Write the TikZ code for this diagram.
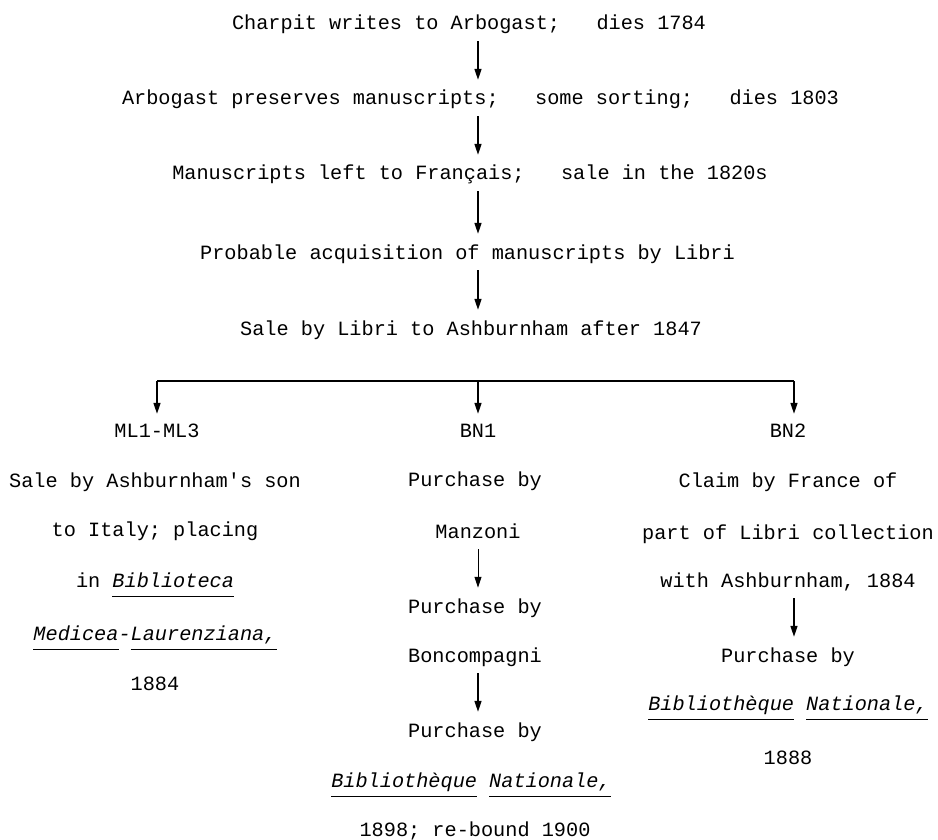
\documentclass[tikz,border=0pt]{standalone}
\usepackage{fontspec}
\setmonofont{Liberation Mono}
\usetikzlibrary{arrows.meta}
\newcommand\ulw[1]{\setbox0\hbox{\itshape #1}\rlap{\rule[-10pt]{\wd0}{1.4pt}}\box0}
\begin{document}
\begin{tikzpicture}[x=1pt,y=-1pt,
  every node/.style={font=\ttfamily\fontsize{20.25}{24}\selectfont, inner sep=0pt,
    text height=14pt, text depth=4pt, anchor=base},
  arr/.style={line width=1.5pt, -{Triangle[length=11pt,width=7pt]}, shorten <=7pt, shorten >=11pt},
  bar/.style={line width=1.5pt}]
\useasboundingbox (0,0) rectangle (938,840);
% main column
\coordinate (cm) at (478,0);
\node (l1) at (469,30) {Charpit writes to Arbogast;~~~dies 1784};
\node (l2) at (480.5,105) {Arbogast preserves manuscripts;~~~some sorting;~~~dies 1803};
\node (l3) at (470,180) {Manuscripts left to Français;~~~sale in the 1820s};
\node (l4) at (467.5,259) {Probable acquisition of manuscripts by Libri};
\node (l5) at (471,335) {Sale by Libri to Ashburnham after 1847};
\draw[arr] (l1.south -| cm) -- (l2.north -| cm);
\draw[arr] (l2.south -| cm) -- (l3.north -| cm);
\draw[arr] (l3.south -| cm) -- (l4.north -| cm);
\draw[arr] (l4.south -| cm) -- (l5.north -| cm);
% branch bar
\coordinate (bl) at (157,381);
\coordinate (bm) at (478,381);
\coordinate (br) at (794,381);
\draw[bar] (bl) -- (br);
% column 1
\node (a1) at (157,437) {ML1-ML3};
\node (a2) at (155,487) {Sale by Ashburnham's son};
\node (a3) at (155,536) {to Italy; placing};
\node (a4) at (155,587) {in \ulw{Biblioteca}};
\node (a5) at (155,640) {\ulw{Medicea}{\itshape -}\ulw{Laurenziana,}};
\node (a6) at (155,690) {1884};
% column 2
\node (b1) at (478,437) {BN1};
\node (b2) at (475,486) {Purchase by};
\node (b3) at (478,538) {Manzoni};
\node (b4) at (475,613) {Purchase by};
\node (b5) at (475,662) {Boncompagni};
\node (b6) at (475,737) {Purchase by};
\node (b7) at (471,787) {\ulw{Bibliothèque}~\ulw{Nationale,}};
\node (b8) at (475,836) {1898; re-bound 1900};
% column 3
\node (c1) at (788,437) {BN2};
\node (c2) at (788,487) {Claim by France of};
\node (c3) at (788,539) {part of Libri collection};
\node (c4) at (788,587) {with Ashburnham, 1884};
\node (c5) at (788,662) {Purchase by};
\node (c6) at (788,710) {\ulw{Bibliothèque}~\ulw{Nationale,}};
\node (c7) at (788,764) {1888};
% branch arrows
\draw[arr, shorten <=0pt, shorten >=9pt] (bl) -- (a1.north -| bl);
\draw[arr, shorten <=0pt, shorten >=9pt] (bm) -- (b1.north -| bm);
\draw[arr, shorten <=0pt, shorten >=9pt] (br) -- (c1.north -| br);
% column arrows
\draw[arr, line width=1pt] (b3.south -| bm) -- (b4.north -| bm);
\draw[arr] (b5.south -| bm) -- (b6.north -| bm);
\draw[arr] (c4.south -| br) -- (c5.north -| br);
\end{tikzpicture}
\end{document}
